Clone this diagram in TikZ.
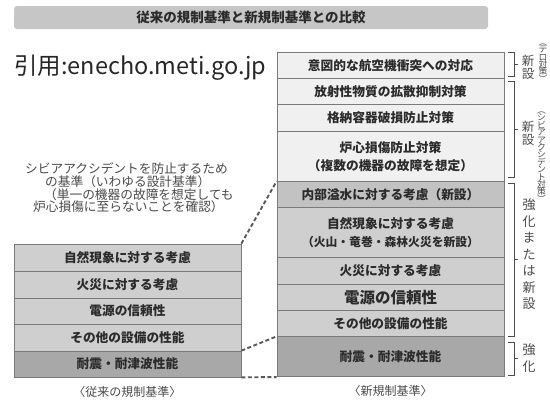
\documentclass[tikz,border=0pt]{standalone}
\usepackage{fontspec}
\setmainfont{Noto Sans CJK JP}
\definecolor{barfill}{HTML}{C6C6C6}
\definecolor{lightcell}{HTML}{F0F0F0}
\definecolor{midcell}{HTML}{CFCFCF}
\definecolor{darkcell}{HTML}{A8A8A8}
\definecolor{edge}{HTML}{7A7A7A}
\definecolor{txt}{HTML}{2B2B2B}
\definecolor{note}{HTML}{4A4A4A}
\begin{document}
\lineskiplimit=-20pt
\begin{tikzpicture}[x=1pt,y=-1pt,
  cell/.style={draw=edge, line width=0.7pt, minimum width=227pt, inner sep=0pt, align=center, text=txt,
    font=\bfseries\fontsize{12.7}{18}\selectfont},
  light/.style={cell, fill=lightcell},
  mid/.style={cell, fill=midcell},
  dark/.style={cell, fill=darkcell},
  dsh/.style={draw=black!65, line width=1.9pt, dash pattern=on 4pt off 2.5pt},
  brk/.style={draw=black!70, line width=0.7pt},
  vlab/.style={inner sep=0pt, align=center, text=note, font=\fontsize{12.5}{13}\selectfont},
  vlabb/.style={inner sep=0pt, align=center, text=note, font=\fontsize{13}{16.5}\selectfont},
  plab/.style={inner sep=0pt, align=center, text=note, font=\fontsize{8.8}{7.4}\selectfont},
  caption/.style={inner sep=0pt, text=note, font=\fontsize{12}{14}\selectfont}]
\useasboundingbox (0,0) rectangle (550,400);

% title bar
\node[fill=barfill, rounded corners=3pt, minimum width=474pt, minimum height=23pt, inner sep=0pt,
  font=\bfseries\fontsize{13.5}{15}\selectfont, text=txt] (title) at (251,17.5) {従来の規制基準と新規制基準との比較};

% citation
\node[font=\fontsize{23.5}{25}\selectfont, text=black!85, anchor=west, inner sep=0pt] (cite) at (14,68) {引用:enecho.meti.go.jp};

% right stack
\node[light, minimum height=25.5pt] (r1) at (390.5,65.25) {意図的な航空機衝突への対応};
\node[light, minimum height=26.3pt] (r2) at (390.5,91.15) {放射性物質の拡散抑制対策};
\node[light, minimum height=27.2pt] (r3) at (390.5,117.9) {格納容器破損防止対策};
\node[light, minimum height=50pt] (r4) at (390.5,156.5) {炉心損傷防止対策\\（複数の機器の故障を想定）};
\node[mid, minimum height=26.2pt, fill=black!24] (r5) at (390.5,194.6) {内部溢水に対する考慮（新設）};
\node[mid, minimum height=49.3pt] (r6) at (390.5,232.35) {自然現象に対する考慮\\{\fontsize{11.8}{14}\selectfont（火山・竜巻・森林火災を新設）}};
\node[mid, minimum height=27pt] (r7) at (390.5,270.5) {火災に対する考慮};
\node[mid, minimum height=26.7pt, font=\bfseries\fontsize{15.5}{18}\selectfont] (r8) at (390.5,297.35) {電源の信頼性};
\node[mid, minimum height=26pt] (r9) at (390.5,323.7) {その他の設備の性能};
\node[dark, minimum height=40pt] (r10) at (390.5,356.7) {耐震・耐津波性能};

% left stack
\node[mid, minimum height=27.7pt] (l1) at (127.5,257.85) {自然現象に対する考慮};
\node[mid, minimum height=26.3pt] (l2) at (127.5,284.85) {火災に対する考慮};
\node[mid, minimum height=26.3pt] (l3) at (127.5,311.15) {電源の信頼性};
\node[mid, minimum height=26.7pt] (l4) at (127.5,337.65) {その他の設備の性能};
\node[dark, minimum height=26pt] (l5) at (127.5,364) {耐震・耐津波性能};

% dashed connectors
\draw[dsh] (l1.north east) -- (r5.north west);
\draw[dsh] (l5.north east) -- (r10.north west);
\draw[dsh] (l5.south east) -- (r10.south west);

% annotation
\node[anchor=north west, inner sep=0pt, align=left, text=note, font=\fontsize{12.7}{12.8}\selectfont] (note) at (25,162.5)
  {シビアアクシデントを防止するため\\\hspace*{20pt}の基準（いわゆる設計基準）\\\hspace*{19pt}（単一の機器の故障を想定しても\\\hspace*{8pt}炉心損傷に至らないことを確認）};

% captions
\node[caption] (lcap) at (127.5,392) {〈従来の規制基準〉};
\node[caption] (rcap) at (390.5,391) {〈新規制基準〉};

% brackets
\draw[brk] (508,52) -- (514,52) -- (514,76) -- (508,76);
\draw[brk] (514,64) -- (518,64);
\draw[brk] (508,81) -- (514,81) -- (514,177) -- (508,177);
\draw[brk] (514,129) -- (518,129);
\draw[brk] (508,183) -- (514,183) -- (514,336) -- (508,336);
\draw[brk] (514,259.5) -- (518,259.5);
\draw[brk] (508,342) -- (514,342) -- (514,375) -- (508,375);
\draw[brk] (514,358.5) -- (518,358.5);

% bracket labels
\node[vlab] (v1) at (528,67.5) {新\\設};
\node[vlab] (v2) at (528,133.5) {新\\設};
\node[vlabb] (v3) at (529,254.5) {強\\化\\ま\\た\\は\\新\\設};
\node[vlabb] (v4) at (529,358) {強\\化};
\node[plab] (p1) at (543,63) {︵\\テ\\ロ\\対\\策\\︶};
\node[plab] (p2) at (541.5,157) {︵\\シ\\ビ\\ア\\ア\\ク\\シ\\デ\\ン\\ト\\対\\策\\︶};
\end{tikzpicture}
\end{document}
